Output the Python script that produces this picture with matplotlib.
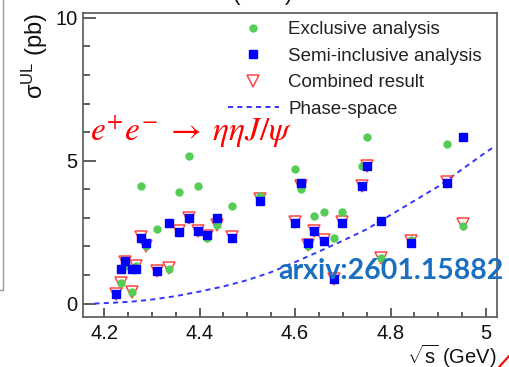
import matplotlib.pyplot as plt
from matplotlib.lines import Line2D
from matplotlib.ticker import MultipleLocator

# upper limits at each c.m. energy (pb)
energy = [4.226, 4.236, 4.244, 4.258, 4.267, 4.278, 4.288, 4.312, 4.337, 4.358,
          4.377, 4.396, 4.416, 4.436, 4.467, 4.527, 4.600, 4.612, 4.628, 4.640,
          4.661, 4.682, 4.699, 4.740, 4.750, 4.781, 4.843, 4.918, 4.951]
exclusive = [0.33, 0.72, 1.30, 0.41, 1.33, 4.13, 2.00, 2.60, 1.21, 3.92,
             5.15, 4.10, 2.30, 2.75, 3.43, 3.78, 4.71, 4.02, 2.00, 3.08,
             3.19, 2.30, 3.22, 4.83, 5.83, 1.60, 2.24, 5.58, 2.73]
semi_inclusive = [0.33, 1.20, 1.49, 1.20, 1.20, 2.30, 2.11, 1.13, 2.82, 2.52,
                  3.00, 2.53, 2.41, 3.00, 2.30, 3.58, 2.82, 4.22, 2.12, 2.53,
                  2.20, 0.87, 2.82, 4.10, 4.80, 2.90, 2.12, 4.22, 5.82]
combined = [0.35, 0.72, 1.45, 0.41, 1.30, 2.33, 2.00, 1.15, 1.23, 2.55,
            3.00, 2.55, 2.35, 2.75, 2.33, 3.65, 2.85, 4.10, 2.05, 2.55,
            2.22, 0.87, 2.85, 4.12, 4.82, 1.60, 2.20, 4.25, 2.78]

# phase-space shape
ps_energy = [4.18, 4.22, 4.26, 4.30, 4.35, 4.40, 4.45, 4.50, 4.55, 4.60,
             4.65, 4.70, 4.75, 4.80, 4.85, 4.90, 4.95, 5.00, 5.02]
ps_value = [0.0, 0.03, 0.07, 0.14, 0.26, 0.42, 0.60, 0.82, 1.10, 1.45,
            1.82, 2.20, 2.60, 3.10, 3.60, 4.10, 4.70, 5.30, 5.52]

plt.rcParams['font.family'] = ['Liberation Sans', 'DejaVu Sans']
plt.rcParams['mathtext.fontset'] = 'custom'
plt.rcParams['mathtext.rm'] = 'Liberation Sans'
plt.rcParams['mathtext.it'] = 'Liberation Sans:italic'
plt.rcParams['mathtext.bf'] = 'Liberation Sans:bold'

W, H = 510, 367
fig = plt.figure(figsize=(W / 100, H / 100), dpi=100)
ax = fig.add_axes([83 / W, 1 - 317 / H, 414 / W, 304 / H])

ps, = ax.plot(ps_energy, ps_value, color='#3535ff', lw=1.4, ls=(0, (2.6, 2.2)),
              zorder=2, label='Phase-space')
comb, = ax.plot(energy, combined, 'v', ms=9, mfc='none', mec='#ff4545', mew=1.1,
                zorder=3, label='Combined result')
exc, = ax.plot(energy, exclusive, 'o', ms=5, color='#55cc55', zorder=4,
               label='Exclusive analysis')
semi, = ax.plot(energy, semi_inclusive, 's', ms=6, color='#0000ff', zorder=5,
                label='Semi-inclusive analysis')

ax.set_xlim(4.156, 5.023)
ax.set_ylim(-0.47, 10.17)
ax.set_xticks([4.2, 4.4, 4.6, 4.8, 5.0], ['4.2', '4.4', '4.6', '4.8', '5'])
ax.set_yticks([0, 5, 10], ['0', '5', '10'])
ax.xaxis.set_minor_locator(MultipleLocator(0.05))
ax.yaxis.set_minor_locator(MultipleLocator(1))
ax.tick_params(which='both', direction='in', top=False, right=False,
               colors='#333', labelcolor='#111', labelsize=14.5, width=1.1)
ax.tick_params(axis='x', which='major', length=6.5, pad=5)
ax.tick_params(axis='x', which='minor', length=3.5)
ax.tick_params(axis='y', which='major', length=9, pad=4)
ax.tick_params(axis='y', which='minor', length=5)
for sp in ax.spines.values():
    sp.set_color('#555')
    sp.set_linewidth(1.2)

ax.set_xlabel(r'$\sqrt{\mathrm{s}}$ (GeV)', loc='right', fontsize=14.5, color='#111')
ax.xaxis.set_label_coords(1.0, -0.084)
ax.set_ylabel(r'σ$^{\mathrm{UL}}$ (pb)', loc='top', fontsize=17, color='#111')
ax.yaxis.set_label_coords(-0.08, 1.0)

ax.legend(handles=[exc, semi, comb, ps], loc='upper left',
          bbox_to_anchor=((228 - 83) / 414, 1 - 8 / 304), frameon=False,
          fontsize=13.5, handlelength=2.7, handletextpad=0.5, labelspacing=0.5,
          borderpad=0, borderaxespad=0, numpoints=1, labelcolor='#222')

ax.text((90 - 83) / 414, 1 - (132 - 13) / 304,
        r'$e^{+}e^{-}\;\rightarrow\;\eta\eta J/\psi$',
        transform=ax.transAxes, ha='left', va='center', fontsize=24, color='red',
        math_fontfamily='stix')

fig.text(278 / W, 1 - 271 / H, 'arxiv:2601.15882', ha='left', va='center',
         fontsize=20.5, fontweight='bold', color='#1a6fc0', family='Lato', zorder=10)

# bits of the surrounding slide
fig.text(292 / W, 1 - 1 / H, r'$\sqrt{\mathrm{s}}$ (GeV)', ha='right', va='baseline',
         fontsize=16, color='#111')
fig.add_artist(Line2D([3 / W, 3 / W, 0], [1, 1 - 290 / H, 1 - 290 / H],
                      transform=fig.transFigure, color='#999', lw=1))
fig.add_artist(Line2D([499 / W, 1.0], [0, 12 / H], transform=fig.transFigure,
                      color='red', lw=1.5))

fig.savefig('out.png', dpi=100)
